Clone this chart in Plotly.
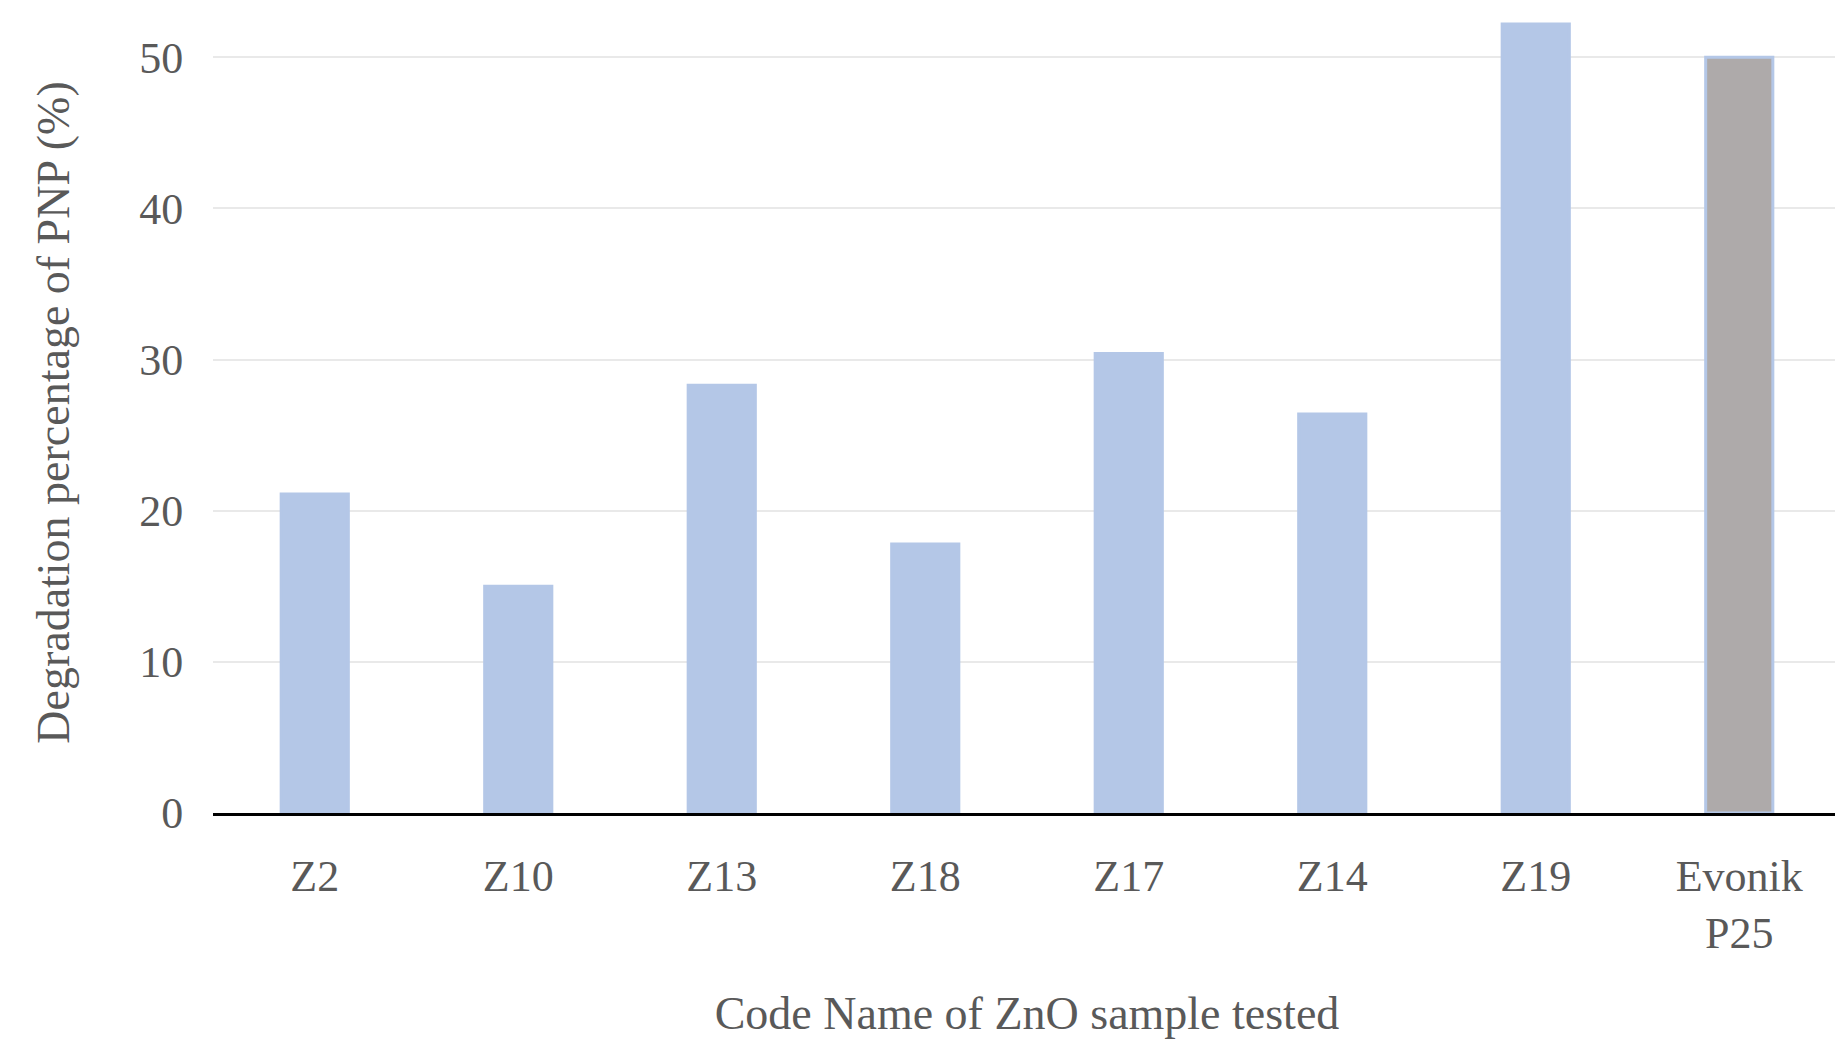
import plotly.graph_objects as go

categories = ["Z2", "Z10", "Z13", "Z18", "Z17", "Z14", "Z19", "Evonik<br>P25"]
values = [21.1, 15.0, 28.3, 17.8, 30.4, 26.4, 52.2, 50.0]
colors = ["#b4c7e7"] * 7 + ["#aeaaaa"]

font = "Liberation Serif"
fig = go.Figure(go.Bar(x=categories, y=values, marker=dict(color=colors, line=dict(color="#b4c7e7", width=3)), width=0.33))
fig.update_layout(
    width=1843, height=1063, plot_bgcolor="white", paper_bgcolor="white",
    margin=dict(l=205, r=10, t=4, b=258), showlegend=False,
    font=dict(family=font, size=44, color="#595959"),
    xaxis=dict(title=dict(text="Code Name of ZnO sample tested", font=dict(size=46), standoff=40),
               showline=True, linecolor="black", linewidth=3, ticks="outside", ticklen=22, tickcolor="white",
               tickfont=dict(size=44)),
    yaxis=dict(title=dict(text="Degradation percentage of PNP (%)", font=dict(size=46), standoff=55),
               range=[0, 53], dtick=10, gridcolor="#e9e9e9", gridwidth=2, showline=False,
               zeroline=False, tickfont=dict(size=44), ticks="outside", ticklen=20, tickcolor="white"),
)
fig.write_html("out.html")
